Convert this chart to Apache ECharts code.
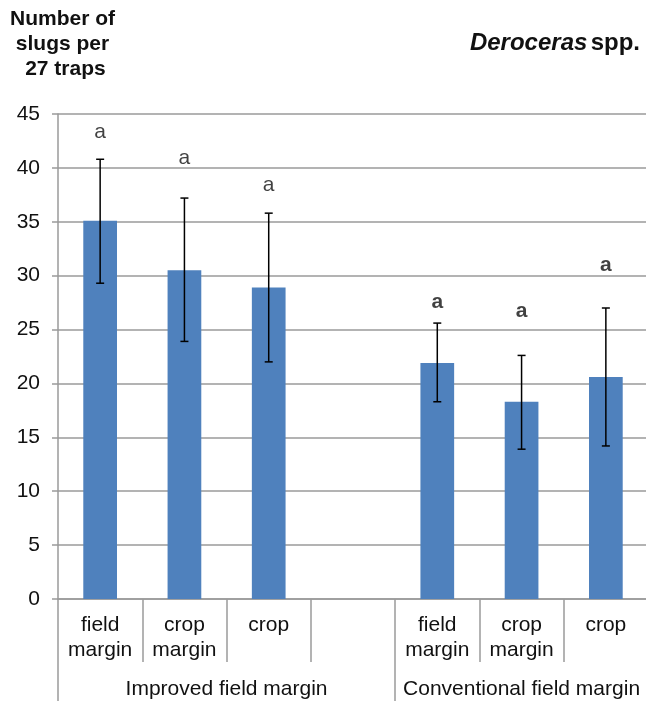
<!DOCTYPE html>
<html>
<head>
<meta charset="utf-8">
<script src="https://cdn.jsdelivr.net/npm/echarts@6/dist/echarts.min.js"></script>
<style>
html,body{margin:0;padding:0;background:#fff;overflow:hidden;}
#main{width:650px;height:701px;}
</style>
</head>
<body>
<div id="main"></div>
<script>
var categories = ['field\nmargin', 'crop\nmargin', 'crop', '', 'field\nmargin', 'crop\nmargin', 'crop'];
var groups = ['Improved field margin', 'Conventional field margin'];
var means = [35.1, 30.5, 28.9, '-', 21.9, 18.3, 20.6];
var errLow = [29.3, 23.9, 22.0, null, 18.3, 13.9, 14.2];
var errHigh = [40.8, 37.2, 35.8, null, 25.6, 22.6, 27.0];
var letters = ['a', 'a', 'a', '', 'a', 'a', 'a'];
var letterPos = [43.3, 40.9, 38.4, null, 27.5, 26.7, 31.0];
var boldLetter = [false, false, false, false, true, true, true];
var yTicks = [0, 5, 10, 15, 20, 25, 30, 35, 40, 45];

var font = 'Liberation Sans, Arial, sans-serif';
var chart = echarts.init(document.getElementById('main'));

var errData = [];
var letterData = [];
for (var i = 0; i < categories.length; i++) {
  if (errLow[i] != null) errData.push([i, errLow[i], errHigh[i]]);
  if (letterPos[i] != null) {
    letterData.push({
      value: [i, letterPos[i]],
      label: {formatter: letters[i], fontWeight: boldLetter[i] ? 'bold' : 'normal'}
    });
  }
}

var option = {
  animation: false,
  textStyle: {fontFamily: font},
  graphic: [
    {type: 'text', left: 10, top: 7,
     style: {text: 'Number of\nslugs per\n 27 traps', font: 'bold 21px ' + font, fill: '#111', lineHeight: 25, textAlign: 'center'}},
    {type: 'text', right: 10, top: 31,
     style: {text: '{i|Deroceras} {b|spp.}', rich: {
       i: {font: 'italic bold 24px ' + font, fill: '#111'},
       b: {font: 'bold 24px ' + font, fill: '#111'}}}}
  ],
  grid: {left: 58, right: 2, top: 114, bottom: 102},
  xAxis: [{
    type: 'category',
    data: categories,
    axisLine: {lineStyle: {color: '#9a9a9a', width: 1.5}},
    axisTick: {show: true, interval: 0, length: 63, lineStyle: {color: '#9a9a9a', width: 1.5}},
    axisLabel: {interval: 0, fontSize: 21, color: '#111', lineHeight: 25, margin: 14}
  }, {
    type: 'value',
    min: 0, max: 7,
    position: 'bottom',
    axisLine: {show: false},
    splitLine: {show: false},
    axisTick: {show: true, customValues: [0, 4], length: 110, lineStyle: {color: '#9a9a9a', width: 1.5}},
    axisLabel: {customValues: [2, 5.5], margin: 80, fontSize: 21, color: '#111',
      formatter: function (v) { return v < 4 ? groups[0] : groups[1]; }}
  }],
  yAxis: {
    type: 'value',
    min: 0, max: 45, interval: 5,
    axisLine: {show: true, lineStyle: {color: '#9a9a9a', width: 1.5}},
    axisTick: {show: true, length: 6, lineStyle: {color: '#9a9a9a', width: 1.5}},
    splitLine: {lineStyle: {color: '#9a9a9a', width: 1.5}},
    axisLabel: {fontSize: 21, color: '#111', margin: 18,
      formatter: function (v) { return yTicks.indexOf(v) >= 0 ? v : ''; }}
  },
  series: [{
    type: 'bar',
    data: means,
    barWidth: '40%',
    itemStyle: {color: '#4f81bd'}
  }, {
    type: 'custom',
    data: errData,
    z: 5,
    renderItem: function (params, api) {
      var x = api.value(0);
      var lo = api.coord([x, api.value(1)]);
      var hi = api.coord([x, api.value(2)]);
      var cap = 4;
      var st = {stroke: '#000', lineWidth: 1.5};
      return {type: 'group', children: [
        {type: 'line', shape: {x1: lo[0], y1: lo[1], x2: hi[0], y2: hi[1]}, style: st},
        {type: 'line', shape: {x1: lo[0] - cap, y1: lo[1], x2: lo[0] + cap, y2: lo[1]}, style: st},
        {type: 'line', shape: {x1: hi[0] - cap, y1: hi[1], x2: hi[0] + cap, y2: hi[1]}, style: st}
      ]};
    }
  }, {
    type: 'scatter',
    data: letterData,
    symbolSize: 0,
    label: {show: true, position: 'inside', fontSize: 21, color: '#111'}
  }]
};
chart.setOption(option);
</script>
</body>
</html>
